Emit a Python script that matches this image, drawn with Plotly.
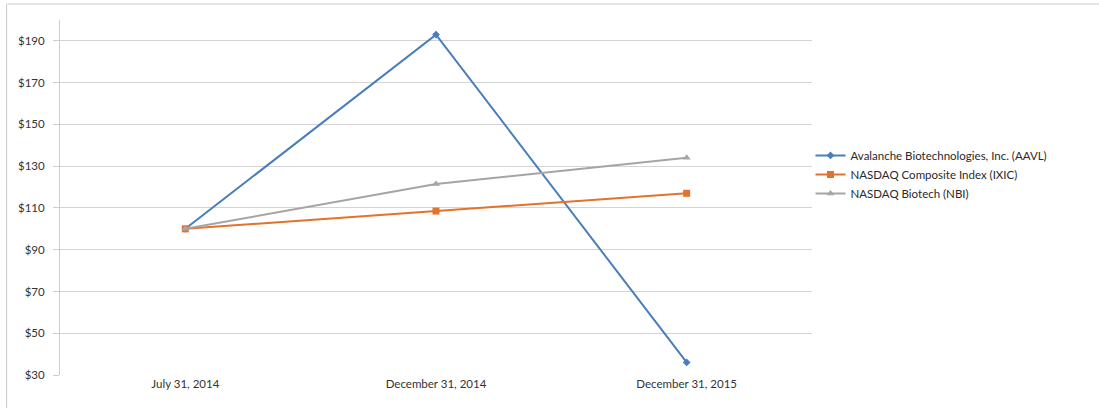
import plotly.graph_objects as go

dates = ["July 31, 2014", "December 31, 2014", "December 31, 2015"]
aavl = [100, 193, 36]
ixic = [100, 108.5, 117]
nbi = [100, 121.5, 134]
y_ticks = [30, 50, 70, 90, 110, 130, 150, 170, 190]
y_tick_labels = ["$30", "$50", "$70", "$90", "$110", "$130", "$150", "$170", "$190"]

series = [
    ("Avalanche Biotechnologies, Inc. (AAVL)", aavl, "#4a7ebb", "diamond", 6),
    ("NASDAQ Composite Index (IXIC)", ixic, "#e2722c", "square", 7),
    ("NASDAQ Biotech (NBI)", nbi, "#a5a5a5", "triangle-up", 7),
]

fig = go.Figure()
for name, vals, color, sym, size in series:
    fig.add_trace(go.Scatter(
        x=dates, y=vals, name=name, mode="lines+markers",
        line=dict(color=color, width=2),
        marker=dict(symbol=sym, size=size, color=color),
    ))

font = "Lato, 'Open Sans', sans-serif"
fig.update_layout(
    width=1099, height=408,
    margin=dict(l=60, r=287, t=20, b=33),
    paper_bgcolor="white", plot_bgcolor="white",
    font=dict(family=font, size=11.5, color="#333333"),
    showlegend=True,
    legend=dict(x=0.998, y=0.565, xanchor="left", yanchor="middle",
                font=dict(size=11.5, color="#2a2a2a"), itemwidth=30,
                tracegroupgap=0, bgcolor="rgba(0,0,0,0)"),
    xaxis=dict(type="category", showgrid=False, zeroline=False,
               showline=False, ticks="", tickfont=dict(size=11.5),
               range=[-0.5, 2.5]),
    yaxis=dict(range=[30, 200], tickvals=y_ticks, ticktext=y_tick_labels,
               showgrid=True, gridcolor="#d4d4d4", gridwidth=1,
               showline=True, linecolor="#cccccc", linewidth=1,
               ticks="outside", ticklen=6, tickcolor="#cccccc",
               ticklabelstandoff=6,
               zeroline=False, tickfont=dict(size=11.5)),
    shapes=[
        dict(type="line", xref="paper", yref="paper", x0=-0.07, x1=1.4, y0=1.045, y1=1.045,
             line=dict(color="#c8c8c8", width=1)),
        dict(type="line", xref="paper", yref="paper", x0=-0.071, x1=-0.071, y0=-0.2, y1=1.045,
             line=dict(color="#c8c8c8", width=1)),
    ],
)

fig.write_html("out.html")
